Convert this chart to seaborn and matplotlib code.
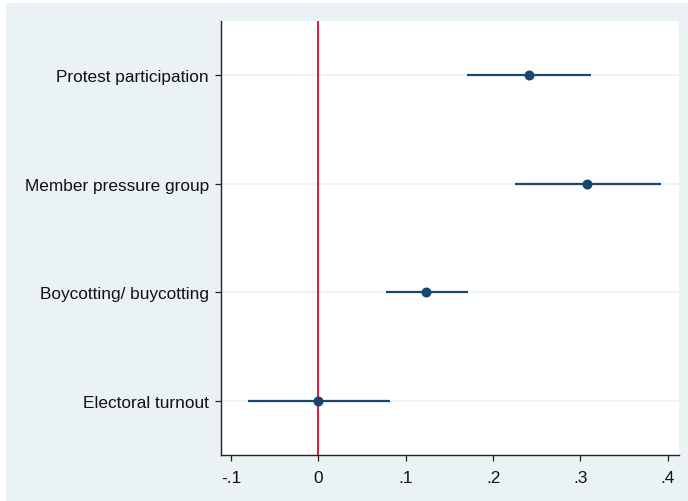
import matplotlib
matplotlib.use("Agg")
import matplotlib.pyplot as plt
from matplotlib.patches import Rectangle
import numpy as np
import pandas as pd
import seaborn as sns

# coefficients with 95% CI
labels = ["Protest participation", "Member pressure group",
          "Boycotting/ buycotting", "Electoral turnout"]
coef = [0.241, 0.308, 0.123, 0.0]
ci_lo = [0.170, 0.225, 0.077, -0.080]
ci_hi = [0.312, 0.392, 0.171, 0.082]
xticks = [-0.1, 0, 0.1, 0.2, 0.3, 0.4]
xticklabels = ["-.1", "0", ".1", ".2", ".3", ".4"]

navy = "#1a476f"
bg = "#eaf2f3"


def plot():
    sns.set_style("white")
    plt.rcParams["font.family"] = ["Liberation Sans", "DejaVu Sans"]

    df = pd.DataFrame({"label": labels, "coef": coef, "lo": ci_lo, "hi": ci_hi})
    df["pos"] = np.arange(len(df))

    fig = plt.figure(figsize=(6.88, 5.02), dpi=100)
    fig.patch.set_facecolor("white")
    fig.patches.append(Rectangle((6 / 688, 0), 1, (502 - 4) / 502,
                                 transform=fig.transFigure, facecolor=bg,
                                 edgecolor="none", zorder=-10))
    ax = fig.add_axes([220.7 / 688, (502 - 456) / 502,
                       (678.7 - 220.7) / 688, (456 - 22) / 502])
    ax.set_facecolor("white")

    for p in df["pos"]:
        ax.axhline(p, color=bg, lw=1.2, zorder=0)
    ax.axvline(0, color="#e0163c", lw=1.4, zorder=1)
    ax.hlines(df["pos"], df["lo"], df["hi"], color=navy, lw=1.6, zorder=2)
    sns.scatterplot(data=df, x="coef", y="pos", ax=ax, color=navy, s=52,
                    edgecolor=navy, linewidth=0, zorder=3)

    ax.set_xlim(-0.1117, 0.4124)
    ax.set_ylim(len(df) - 0.5, -0.5)
    ax.set_xticks(xticks)
    ax.set_xticklabels(xticklabels)
    ax.set_yticks(df["pos"])
    ax.set_yticklabels(df["label"])
    ax.set_xlabel("")
    ax.set_ylabel("")

    for s in ["top", "right"]:
        ax.spines[s].set_visible(False)
    for s in ["left", "bottom"]:
        ax.spines[s].set_color("#222222")
        ax.spines[s].set_linewidth(1.0)
    ax.tick_params(axis="both", which="major", direction="out", length=4.5,
                   width=0.9, color="#222222", labelsize=12.4, labelcolor="#111111",
                   left=True, bottom=True)
    ax.tick_params(axis="y", pad=4)
    ax.tick_params(axis="x", pad=6)

    fig.savefig("out.png", dpi=100)


if __name__ == "__main__":
    plot()
